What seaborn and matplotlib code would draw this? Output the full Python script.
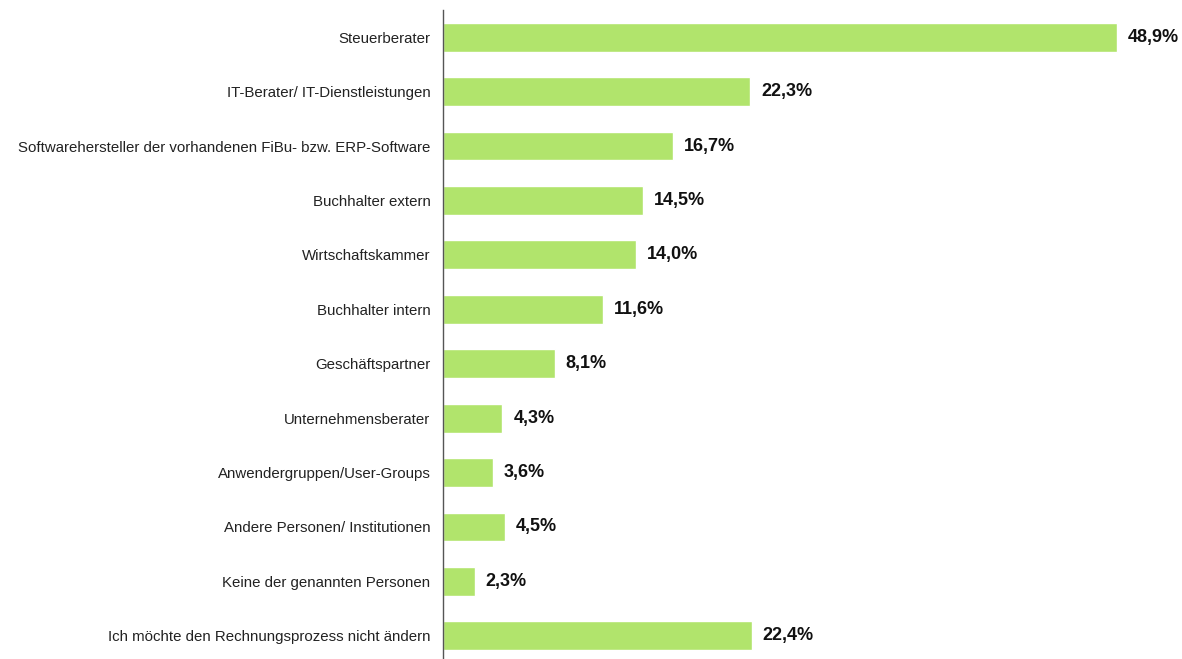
import matplotlib
matplotlib.use("Agg")
import matplotlib.pyplot as plt
import seaborn as sns
import pandas as pd

categories = [
    "Steuerberater",
    "IT-Berater/ IT-Dienstleistungen",
    "Softwarehersteller der vorhandenen FiBu- bzw. ERP-Software",
    "Buchhalter extern",
    "Wirtschaftskammer",
    "Buchhalter intern",
    "Geschäftspartner",
    "Unternehmensberater",
    "Anwendergruppen/User-Groups",
    "Andere Personen/ Institutionen",
    "Keine der genannten Personen",
    "Ich möchte den Rechnungsprozess nicht ändern",
]
values = [48.9, 22.3, 16.7, 14.5, 14.0, 11.6, 8.1, 4.3, 3.6, 4.5, 2.3, 22.4]

df = pd.DataFrame({"kategorie": categories, "anteil": values})

sns.set_style("white")
plt.rcParams["font.family"] = ["Liberation Sans", "DejaVu Sans"]

fig = plt.figure(figsize=(11.82, 6.59), dpi=100)
ax = fig.add_axes([443 / 1182, 1 - 663 / 659, 689 / 1182, 653 / 659])

sns.barplot(data=df, x="anteil", y="kategorie", orient="h", color="#b1e46c",
            saturation=1, width=0.53, ax=ax)

for i, v in enumerate(values):
    ax.text(v + 0.8, i, f"{v:.1f}".replace(".", ",") + "%", va="center", ha="left",
            fontsize=13, fontweight="bold", color="#111111")

ax.set_xlim(0, 50)
ax.set_ylim(11.5, -0.5)
ax.set_xlabel("")
ax.set_ylabel("")
ax.set_xticks([])
ax.tick_params(axis="y", length=0, pad=9, labelsize=10.8, labelcolor="#222222")
for s in ["top", "right", "bottom"]:
    ax.spines[s].set_visible(False)
ax.spines["left"].set_color("#555555")
ax.spines["left"].set_linewidth(1)

fig.savefig("out.png", dpi=100)
